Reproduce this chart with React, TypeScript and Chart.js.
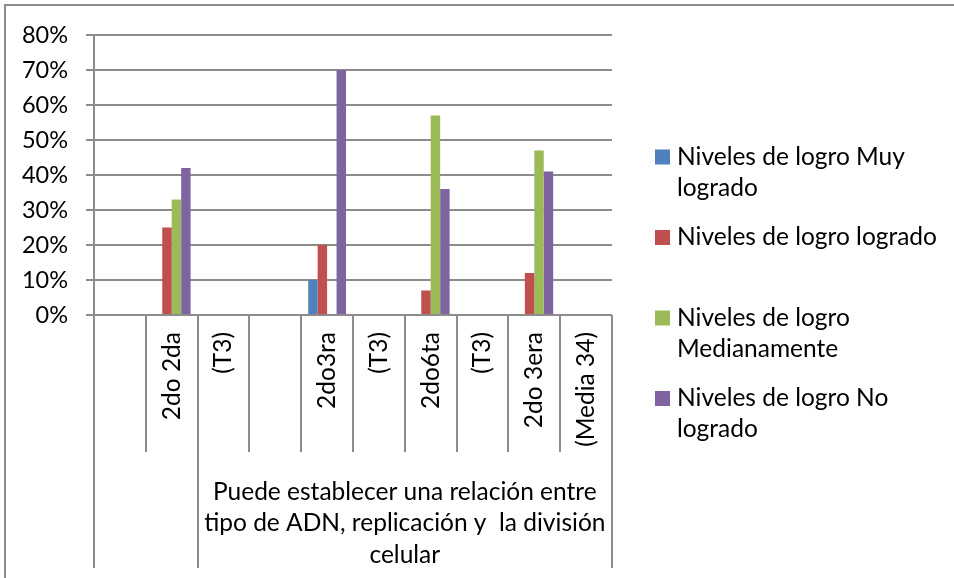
import React, { useEffect, useRef } from 'react';
import { Chart, registerables } from 'chart.js';

Chart.register(...registerables);

// ---- data ----
const categories = ['', '2do 2da', '(T3)', '', '2do3ra', '(T3)', '2do6ta', '(T3)', '2do 3era', '(Media 34)'];
const groupSpans = [2, 8];
const groupLabelLines = [
  [] as string[],
  ['Puede establecer una relación entre', 'tipo de ADN, replicación y  la división', 'celular'],
];
const seriesNames = [
  'Niveles de logro Muy logrado',
  'Niveles de logro logrado',
  'Niveles de logro Medianamente',
  'Niveles de logro No logrado',
];
const legendLines = [
  ['Niveles de logro Muy', 'logrado'],
  ['Niveles de logro logrado'],
  ['Niveles de logro', 'Medianamente'],
  ['Niveles de logro No', 'logrado'],
];
const seriesColors = ['#4F81BD', '#C0504D', '#9BBB59', '#8064A2'];
const muyLogrado = [null, 0, null, null, 10, null, 0, null, 0, null];
const logrado = [null, 25, null, null, 20, null, 7, null, 12, null];
const medianamente = [null, 33, null, null, 0, null, 57, null, 47, null];
const noLogrado = [null, 42, null, null, 70, null, 36, null, 41, null];
const yMin = 0;
const yMax = 80;
const yStep = 10;

// ---- style ----
const FONT = 'Lato, "Noto Sans", sans-serif';
const FS = 24.5;
const FS_Y = 23.5;
const GRID = '#8c8c8c';
const W = 954;
const H = 578;

const decor = {
  id: 'decor',
  beforeDraw(chart: any) {
    const { ctx } = chart;
    ctx.save();
    ctx.strokeStyle = GRID;
    ctx.lineWidth = 2;
    ctx.beginPath();
    ctx.moveTo(5, 578);
    ctx.lineTo(5, 5);
    ctx.lineTo(954, 5);
    ctx.stroke();
    ctx.restore();
  },
  afterDraw(chart: any) {
    const { ctx, chartArea } = chart;
    const x = chart.scales.x;
    const n = categories.length;
    const half = (x.getPixelForValue(1) - x.getPixelForValue(0)) / 2;
    const boundary = (i: number) =>
      i === n ? x.getPixelForValue(n - 1) + half : x.getPixelForValue(i) - half;
    const groupEdges = new Set<number>([0]);
    let acc = 0;
    groupSpans.forEach((s) => {
      acc += s;
      groupEdges.add(acc);
    });
    const innerBottom = chartArea.bottom + 137;
    const outerBottom = chartArea.bottom + 253;

    ctx.save();
    ctx.strokeStyle = GRID;
    ctx.lineWidth = 2;
    for (let i = 0; i <= n; i++) {
      const bx = Math.round(boundary(i));
      ctx.beginPath();
      ctx.moveTo(bx, chartArea.bottom);
      ctx.lineTo(bx, groupEdges.has(i) ? outerBottom : innerBottom);
      ctx.stroke();
    }

    // inner category labels, rotated
    ctx.fillStyle = '#000';
    ctx.font = `${FS}px ${FONT}`;
    ctx.textBaseline = 'middle';
    ctx.textAlign = 'right';
    categories.forEach((c, i) => {
      if (!c) return;
      const cx = x.getPixelForValue(i);
      ctx.save();
      ctx.translate(cx, chartArea.bottom + 17);
      ctx.rotate(-Math.PI / 2);
      ctx.fillText(c, 0, 0);
      ctx.restore();
    });

    // outer group labels
    ctx.textAlign = 'center';
    let start = 0;
    groupSpans.forEach((s, g) => {
      const left = boundary(start);
      const right = boundary(start + s);
      const cx = (left + right) / 2;
      groupLabelLines[g].forEach((t, j) => {
        ctx.fillText(t, cx, innerBottom + 40 + j * 31.5);
      });
      start += s;
    });

    // legend
    ctx.textAlign = 'left';
    chart.data.datasets.forEach((ds: any, i: number) => {
      const cy = 157 + i * 80.5;
      ctx.fillStyle = ds.backgroundColor;
      ctx.fillRect(655, cy - 7.5, 15, 15);
      ctx.fillStyle = '#000';
      legendLines[i].forEach((t, j) => ctx.fillText(t, 677, cy + j * 31));
    });
    ctx.restore();
  },
};

export default function App() {
  const ref = useRef<HTMLCanvasElement | null>(null);

  useEffect(() => {
    document.body.style.margin = '0';
    if (!ref.current) return;
    const seriesData = [muyLogrado, logrado, medianamente, noLogrado];
    const chart = new Chart(ref.current, {
      type: 'bar',
      data: {
        labels: categories,
        datasets: seriesNames.map((name, i) => ({
          label: name,
          data: seriesData[i],
          backgroundColor: seriesColors[i],
          borderWidth: 0,
          categoryPercentage: 0.73,
          barPercentage: 1,
        })),
      },
      options: {
        animation: false,
        responsive: true,
        maintainAspectRatio: false,
        devicePixelRatio: 1,
        layout: { padding: { top: 35, right: 342, bottom: 0, left: 0 } },
        plugins: {
          legend: { display: false },
          tooltip: { enabled: false },
        },
        scales: {
          x: {
            type: 'category',
            ticks: { display: false },
            grid: { display: false },
            border: { display: false },
            afterFit: (s: any) => {
              s.height = 263;
            },
          },
          y: {
            min: yMin,
            max: yMax,
            ticks: {
              stepSize: yStep,
              padding: 18,
              color: '#000',
              font: { family: FONT, size: FS_Y },
              callback: (v: any) => `${v}%`,
            },
            grid: { color: GRID, lineWidth: 2, tickLength: 8, tickColor: GRID },
            border: { display: true, color: GRID, width: 2 },
            afterFit: (s: any) => {
              s.width = 94;
            },
          },
        },
      },
      plugins: [decor],
    } as any);
    return () => chart.destroy();
  }, []);

  return (
    <div style={{ width: W, height: H, position: 'relative', background: '#fff' }}>
      <canvas ref={ref} />
    </div>
  );
}
